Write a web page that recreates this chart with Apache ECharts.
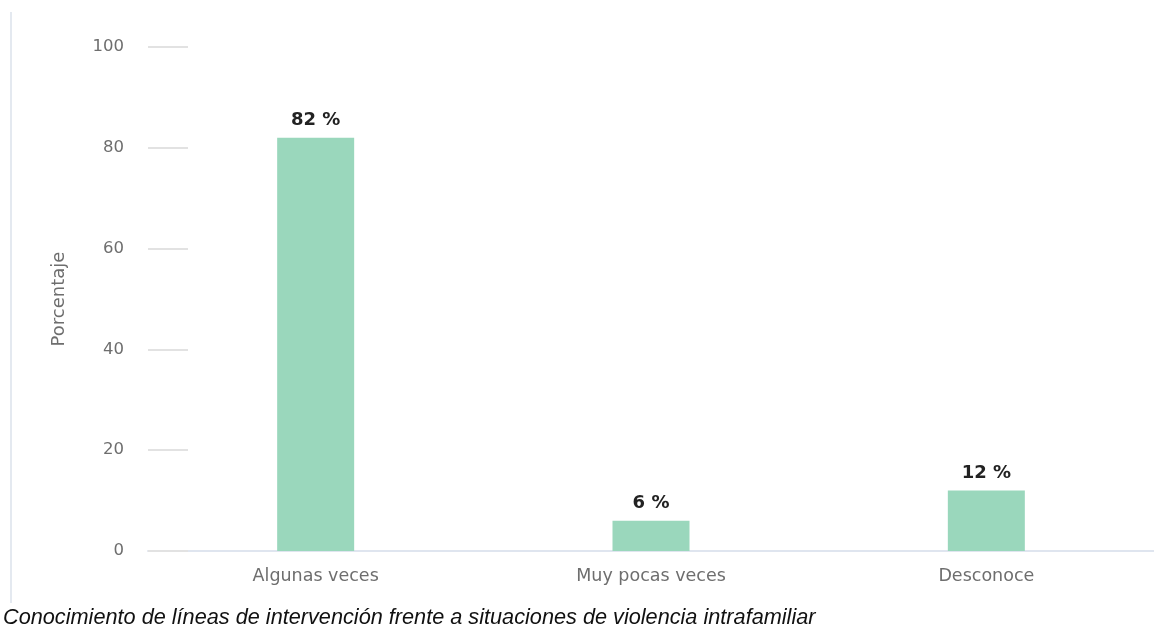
<!DOCTYPE html>
<html><head><meta charset="utf-8">
<script src="https://cdn.jsdelivr.net/npm/echarts@6/dist/echarts.min.js"></script>
<style>html,body{margin:0;padding:0;background:#fff}#c{width:1154px;height:630px}</style>
</head><body><div id="c"></div>
<script>
var categories = ["Algunas veces", "Muy pocas veces", "Desconoce"];
var values = [82, 6, 12];
var yTicks = [0, 20, 40, 60, 80, 100];
var yName = "Porcentaje";
var caption = "Conocimiento de líneas de intervención frente a situaciones de violencia intrafamiliar";

var chart = echarts.init(document.getElementById('c'), null, {renderer: 'canvas'});
chart.setOption({
  animation: false,
  grid: {left: 148, top: 47, width: 1011, height: 504, containLabel: false},
  graphic: [
    {type: 'line', shape: {x1: 11, y1: 12, x2: 11, y2: 603}, style: {stroke: '#e4e9f0', lineWidth: 2}},
    {type: 'text', left: 3, top: 607, style: {text: caption, font: 'italic 21.7px "Liberation Sans", Arial, sans-serif', fill: '#111'}}
  ],
  xAxis: {
    type: 'category', data: categories,
    axisLine: {lineStyle: {color: '#dfe5ef', width: 2}},
    axisTick: {show: false},
    axisLabel: {color: '#6e6e6e', fontSize: 17.5, fontFamily: 'DejaVu Sans', margin: 16}
  },
  yAxis: {
    type: 'value', min: yTicks[0], max: yTicks[yTicks.length - 1], interval: 20,
    name: yName, nameLocation: 'middle', nameGap: 80,
    nameTextStyle: {color: '#6e6e6e', fontSize: 18, fontFamily: 'DejaVu Sans'},
    axisLine: {show: false},
    axisTick: {show: true, inside: true, length: 40, lineStyle: {color: '#e2e2e2', width: 2}},
    splitLine: {show: false},
    axisLabel: {color: '#6e6e6e', fontSize: 16.5, fontFamily: 'DejaVu Sans', margin: 24}
  },
  series: [{
    type: 'bar', data: values, barWidth: 77,
    itemStyle: {color: '#9ad7bc'},
    label: {show: true, position: 'top', distance: 8, formatter: '{c} %',
      color: '#222', fontWeight: 'bold', fontSize: 18, fontFamily: 'DejaVu Sans'}
  }]
});
</script></body></html>
